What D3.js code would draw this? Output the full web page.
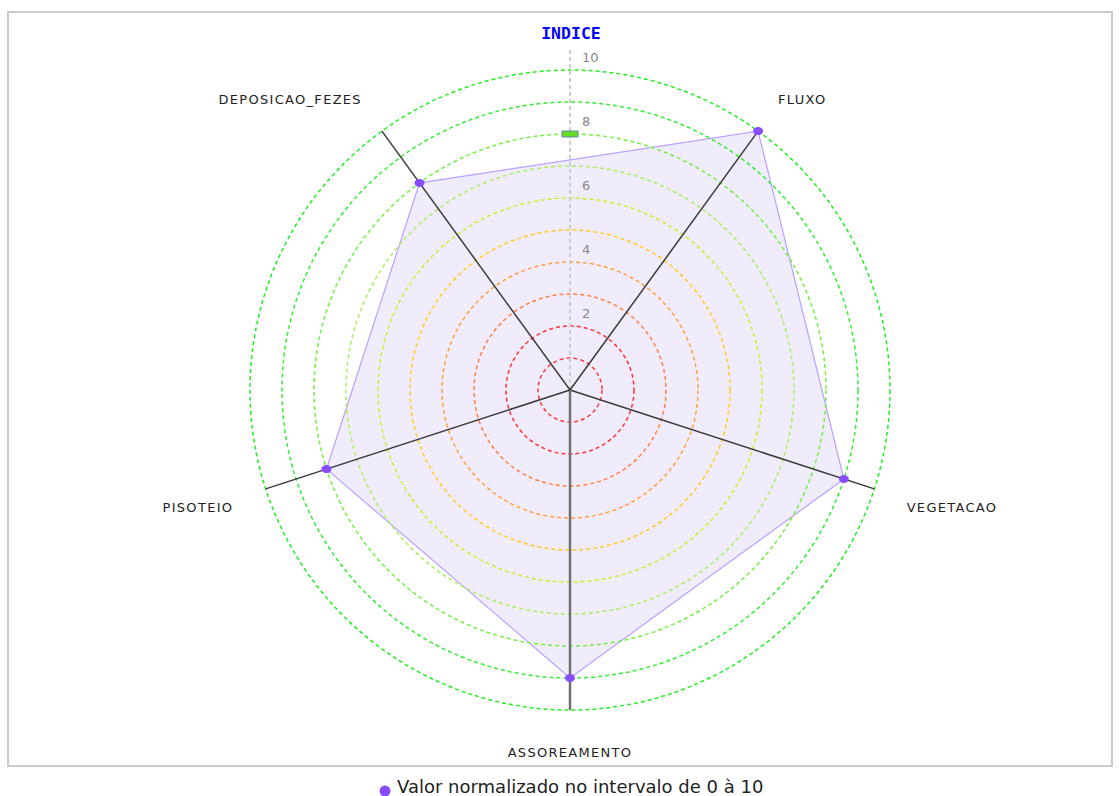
<!DOCTYPE html>
<html>
<head>
<meta charset="utf-8">
<script src="https://cdn.jsdelivr.net/npm/d3@7"></script>
<style>
body { margin: 0; background: #fff; }
</style>
</head>
<body>
<svg></svg>
<script>
// data
var categories = ["FLUXO", "VEGETACAO", "ASSOREAMENTO", "PISOTEIO", "DEPOSICAO_FEZES"];
var values = [10, 9, 9, 8, 8];
var indexValue = 8;
var ticks = [2, 4, 6, 8, 10];
var rings = [1, 2, 3, 4, 5, 6, 7, 8, 9, 10];
var ringColors = ["#ff3b3b", "#ff3535", "#ff8040", "#ffa040", "#ffcc22", "#c8f030", "#a8f060", "#70f040", "#33ee33", "#22ee22"];
var axisTitle = "INDICE";
var legendText = "Valor normalizado no intervalo de 0 à 10";

var svg = d3.select("svg")
    .attr("width", 1119)
    .attr("height", 796);

var cx = 570, cy = 390;
var rScale = d3.scaleLinear().domain([0, 10]).range([0, 320]);
var angle = function(i) { return (36 + 72 * i) * Math.PI / 180; };
var px = function(r, a) { return cx + r * Math.sin(a); };
var py = function(r, a) { return cy - r * Math.cos(a); };

// frame
svg.append("rect")
    .attr("x", 8).attr("y", 12)
    .attr("width", 1104).attr("height", 754)
    .style("fill", "none")
    .style("stroke", "#cccccc")
    .style("stroke-width", 2);

// polygon
var line = d3.line()
    .x(function(d, i) { return px(rScale(d), angle(i)); })
    .y(function(d, i) { return py(rScale(d), angle(i)); })
    .curve(d3.curveLinearClosed);

svg.append("path")
    .datum(values)
    .attr("d", line)
    .style("fill", "rgba(150,110,235,0.13)")
    .style("stroke", "#b9a0ff")
    .style("stroke-width", 1.2);

// rings
svg.append("g").selectAll("circle")
    .data(rings)
    .enter()
    .append("circle")
    .attr("cx", cx).attr("cy", cy)
    .attr("r", function(d) { return rScale(d); })
    .style("fill", "none")
    .style("stroke", function(d, i) { return ringColors[i]; })
    .style("stroke-width", 1.5)
    .style("stroke-dasharray", "4,3");

// scale axis (top)
svg.append("line")
    .attr("x1", cx).attr("y1", cy)
    .attr("x2", cx).attr("y2", cy - rScale(10) - 22)
    .style("stroke", "#cccccc")
    .style("stroke-width", 2)
    .style("stroke-dasharray", "4,3");

svg.append("g").selectAll("text")
    .data(ticks)
    .enter()
    .append("text")
    .attr("x", cx + 12)
    .attr("y", function(d) { return cy - rScale(d) - 8; })
    .style("font-family", "DejaVu Sans")
    .style("font-size", "13px")
    .style("fill", "#888888")
    .text(function(d) { return d; });

svg.append("text")
    .attr("x", cx + 1)
    .attr("y", 39)
    .attr("text-anchor", "middle")
    .style("font-family", "DejaVu Sans Mono")
    .style("font-weight", "bold")
    .style("font-size", "16.5px")
    .style("fill", "#0000ff")
    .text(axisTitle);

svg.append("rect")
    .attr("x", cx - 8)
    .attr("y", cy - rScale(indexValue) - 3)
    .attr("width", 16).attr("height", 6)
    .style("fill", "#66dd22")
    .style("stroke", "#5a7ab0")
    .style("stroke-width", 0.8);

// axes
svg.append("g").selectAll("line")
    .data(categories)
    .enter()
    .append("line")
    .attr("x1", cx).attr("y1", cy)
    .attr("x2", function(d, i) { return px(rScale(10), angle(i)); })
    .attr("y2", function(d, i) { return py(rScale(10), angle(i)); })
    .style("stroke", function(d, i) { return i == 2 ? "#707070" : "#3a3a3a"; })
    .style("stroke-width", function(d, i) { return i == 2 ? 2.5 : 1.5; });

// points
svg.append("g").selectAll("ellipse")
    .data(values)
    .enter()
    .append("ellipse")
    .attr("cx", function(d, i) { return px(rScale(d), angle(i)); })
    .attr("cy", function(d, i) { return py(rScale(d), angle(i)); })
    .attr("rx", 5).attr("ry", 4)
    .style("fill", "#8a4cff");

// labels
svg.append("g").selectAll("text")
    .data(categories)
    .enter()
    .append("text")
    .attr("x", function(d, i) { return px(354, angle(i)); })
    .attr("y", function(d, i) {
        var y = py(354, angle(i));
        return Math.cos(angle(i)) < 0 ? y + 13 : y + 0;
    })
    .attr("text-anchor", function(d, i) {
        var s = Math.sin(angle(i));
        return Math.abs(s) < 0.01 ? "middle" : (s > 0 ? "start" : "end");
    })
    .style("font-family", "DejaVu Sans")
    .style("font-size", "13px")
    .style("letter-spacing", "1.3px")
    .style("fill", "#222222")
    .text(function(d) { return d; });

// legend
svg.append("circle")
    .attr("cx", 385).attr("cy", 791)
    .attr("r", 5.5)
    .style("fill", "#8a4cff");

svg.append("text")
    .attr("x", 397)
    .attr("y", 793)
    .style("font-family", "DejaVu Sans")
    .style("font-size", "18px")
    .style("fill", "#222222")
    .text(legendText);
</script>
</body>
</html>
